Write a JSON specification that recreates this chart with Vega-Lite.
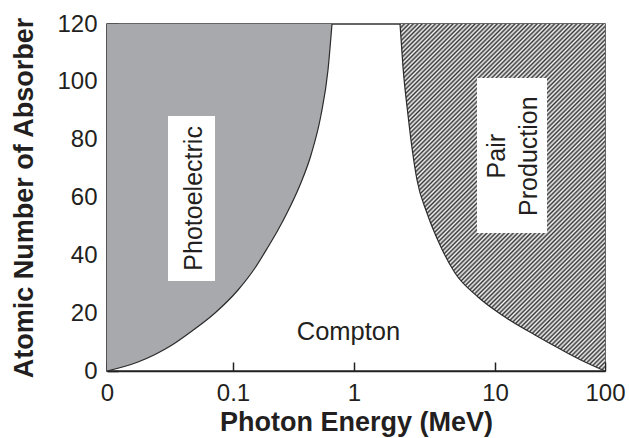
{
  "$schema": "https://vega.github.io/schema/vega-lite/v6.json",
  "width": 498,
  "height": 347,
  "autosize": {"type": "none"},
  "padding": {"left": 107, "top": 24, "right": 24, "bottom": 67},
  "background": "white",
  "config": {
    "view": {"stroke": "#333", "strokeWidth": 1.5},
    "font": "Liberation Sans"
  },
  "datasets": {
    "photo": [
      {"E": 0.01, "Z": 0}, {"E": 0.01762, "Z": 3.11}, {"E": 0.0328, "Z": 8.99},
      {"E": 0.04726, "Z": 13.83}, {"E": 0.07197, "Z": 20.06}, {"E": 0.11, "Z": 28.01},
      {"E": 0.152, "Z": 35.62}, {"E": 0.1947, "Z": 42.88}, {"E": 0.2354, "Z": 48.76},
      {"E": 0.2795, "Z": 54.64}, {"E": 0.3579, "Z": 64.32}, {"E": 0.4412, "Z": 74.7},
      {"E": 0.5337, "Z": 88.53}, {"E": 0.6097, "Z": 104.1}, {"E": 0.658, "Z": 120}
    ],
    "pair": [
      {"E": 2.12, "Z": 120}, {"E": 2.226, "Z": 105.1}, {"E": 2.415, "Z": 88.53},
      {"E": 2.62, "Z": 74.7}, {"E": 2.798, "Z": 66.05}, {"E": 3.294, "Z": 54.64},
      {"E": 4.073, "Z": 43.57}, {"E": 5.204, "Z": 33.89}, {"E": 7.576, "Z": 25.59},
      {"E": 12.33, "Z": 18.67}, {"E": 23.1, "Z": 12.45}, {"E": 40.64, "Z": 7.26},
      {"E": 65.8, "Z": 3.11}, {"E": 100, "Z": 0}
    ],
    "boxes": [
      {"x1": 0.0305, "x2": 0.072, "y1": 31.1, "y2": 88.2},
      {"x1": 7.45, "x2": 29.7, "y1": 47.7, "y2": 101.3}
    ],
    "vlabels": [
      {"t": "Photoelectric", "E": 0.0568, "Z": 59.7},
      {"t": "Pair", "E": 12.33, "Z": 74.3},
      {"t": "Production", "E": 24.09, "Z": 74.3}
    ],
    "hlabels": [
      {"t": "Compton", "E": 0.9006, "Z": 10.7}
    ]
  },
  "encoding": {
    "x": {
      "field": "E", "type": "quantitative",
      "scale": {"type": "log", "domain": [0.01, 0.1, 1, 10, 100], "range": [0, 126, 247, 388, 498], "nice": false},
      "axis": {
        "values": [0.01, 0.1, 1, 10, 100],
        "labelExpr": "datum.value < 0.05 ? '0' : format(datum.value, '~g')",
        "title": "Photon Energy (MeV)",
        "grid": false,
        "tickSize": -9, "tickWidth": 1.5, "tickColor": "#222",
        "domainColor": "#222", "domainWidth": 1.5,
        "labelFontSize": 24, "labelColor": "#231f20", "labelPadding": 19,
        "labelFlush": false, "labelOverlap": false,
        "titleFontSize": 27, "titleFontWeight": "bold", "titleColor": "#231f20",
        "titlePadding": 4
      }
    },
    "y": {
      "field": "Z", "type": "quantitative",
      "scale": {"domain": [0, 120], "nice": false},
      "axis": {
        "values": [0, 20, 40, 60, 80, 100, 120],
        "title": "Atomic Number of Absorber",
        "grid": false,
        "tickSize": -11, "tickWidth": 1.5, "tickColor": "#222",
        "domainColor": "#222", "domainWidth": 1.5,
        "labelFontSize": 24, "labelColor": "#231f20", "labelPadding": 21,
        "labelOverlap": false,
        "titleFontSize": 27, "titleFontWeight": "bold", "titleColor": "#231f20",
        "titlePadding": 18
      }
    }
  },
  "layer": [
    {
      "data": {"name": "photo"},
      "mark": {"type": "area", "color": "#a7a9ac", "interpolate": "monotone"},
      "encoding": {"y2": {"datum": 120}}
    },
    {
      "data": {"name": "pair"},
      "mark": {
        "type": "area", "interpolate": "monotone",
        "color": {
          "gradient": "linear", "x1": 0, "y1": 0, "x2": 0.697, "y2": 1.179,
          "stops": [
            {"offset":0,"color":"#363636"},{"offset":0.004,"color":"#f6f6f6"},{"offset":0.008,"color":"#363636"},{"offset":0.012,"color":"#f6f6f6"},{"offset":0.016,"color":"#363636"},{"offset":0.02,"color":"#f6f6f6"},{"offset":0.024,"color":"#363636"},{"offset":0.028,"color":"#f6f6f6"},{"offset":0.032,"color":"#363636"},{"offset":0.036,"color":"#f6f6f6"},
            {"offset":0.04,"color":"#363636"},{"offset":0.044,"color":"#f6f6f6"},{"offset":0.048,"color":"#363636"},{"offset":0.052,"color":"#f6f6f6"},{"offset":0.056,"color":"#363636"},{"offset":0.06,"color":"#f6f6f6"},{"offset":0.064,"color":"#363636"},{"offset":0.068,"color":"#f6f6f6"},{"offset":0.072,"color":"#363636"},{"offset":0.076,"color":"#f6f6f6"},
            {"offset":0.08,"color":"#363636"},{"offset":0.084,"color":"#f6f6f6"},{"offset":0.088,"color":"#363636"},{"offset":0.092,"color":"#f6f6f6"},{"offset":0.096,"color":"#363636"},{"offset":0.1,"color":"#f6f6f6"},{"offset":0.104,"color":"#363636"},{"offset":0.108,"color":"#f6f6f6"},{"offset":0.112,"color":"#363636"},{"offset":0.116,"color":"#f6f6f6"},
            {"offset":0.12,"color":"#363636"},{"offset":0.124,"color":"#f6f6f6"},{"offset":0.128,"color":"#363636"},{"offset":0.132,"color":"#f6f6f6"},{"offset":0.136,"color":"#363636"},{"offset":0.14,"color":"#f6f6f6"},{"offset":0.144,"color":"#363636"},{"offset":0.148,"color":"#f6f6f6"},{"offset":0.152,"color":"#363636"},{"offset":0.156,"color":"#f6f6f6"},
            {"offset":0.16,"color":"#363636"},{"offset":0.164,"color":"#f6f6f6"},{"offset":0.168,"color":"#363636"},{"offset":0.172,"color":"#f6f6f6"},{"offset":0.176,"color":"#363636"},{"offset":0.18,"color":"#f6f6f6"},{"offset":0.184,"color":"#363636"},{"offset":0.188,"color":"#f6f6f6"},{"offset":0.192,"color":"#363636"},{"offset":0.196,"color":"#f6f6f6"},
            {"offset":0.2,"color":"#363636"},{"offset":0.204,"color":"#f6f6f6"},{"offset":0.208,"color":"#363636"},{"offset":0.212,"color":"#f6f6f6"},{"offset":0.216,"color":"#363636"},{"offset":0.22,"color":"#f6f6f6"},{"offset":0.224,"color":"#363636"},{"offset":0.228,"color":"#f6f6f6"},{"offset":0.232,"color":"#363636"},{"offset":0.236,"color":"#f6f6f6"},
            {"offset":0.24,"color":"#363636"},{"offset":0.244,"color":"#f6f6f6"},{"offset":0.248,"color":"#363636"},{"offset":0.252,"color":"#f6f6f6"},{"offset":0.256,"color":"#363636"},{"offset":0.26,"color":"#f6f6f6"},{"offset":0.264,"color":"#363636"},{"offset":0.268,"color":"#f6f6f6"},{"offset":0.272,"color":"#363636"},{"offset":0.276,"color":"#f6f6f6"},
            {"offset":0.28,"color":"#363636"},{"offset":0.284,"color":"#f6f6f6"},{"offset":0.288,"color":"#363636"},{"offset":0.292,"color":"#f6f6f6"},{"offset":0.296,"color":"#363636"},{"offset":0.3,"color":"#f6f6f6"},{"offset":0.304,"color":"#363636"},{"offset":0.308,"color":"#f6f6f6"},{"offset":0.312,"color":"#363636"},{"offset":0.316,"color":"#f6f6f6"},
            {"offset":0.32,"color":"#363636"},{"offset":0.324,"color":"#f6f6f6"},{"offset":0.328,"color":"#363636"},{"offset":0.332,"color":"#f6f6f6"},{"offset":0.336,"color":"#363636"},{"offset":0.34,"color":"#f6f6f6"},{"offset":0.344,"color":"#363636"},{"offset":0.348,"color":"#f6f6f6"},{"offset":0.352,"color":"#363636"},{"offset":0.356,"color":"#f6f6f6"},
            {"offset":0.36,"color":"#363636"},{"offset":0.364,"color":"#f6f6f6"},{"offset":0.368,"color":"#363636"},{"offset":0.372,"color":"#f6f6f6"},{"offset":0.376,"color":"#363636"},{"offset":0.38,"color":"#f6f6f6"},{"offset":0.384,"color":"#363636"},{"offset":0.388,"color":"#f6f6f6"},{"offset":0.392,"color":"#363636"},{"offset":0.396,"color":"#f6f6f6"},
            {"offset":0.4,"color":"#363636"},{"offset":0.404,"color":"#f6f6f6"},{"offset":0.408,"color":"#363636"},{"offset":0.412,"color":"#f6f6f6"},{"offset":0.416,"color":"#363636"},{"offset":0.42,"color":"#f6f6f6"},{"offset":0.424,"color":"#363636"},{"offset":0.428,"color":"#f6f6f6"},{"offset":0.432,"color":"#363636"},{"offset":0.436,"color":"#f6f6f6"},
            {"offset":0.44,"color":"#363636"},{"offset":0.444,"color":"#f6f6f6"},{"offset":0.448,"color":"#363636"},{"offset":0.452,"color":"#f6f6f6"},{"offset":0.456,"color":"#363636"},{"offset":0.46,"color":"#f6f6f6"},{"offset":0.464,"color":"#363636"},{"offset":0.468,"color":"#f6f6f6"},{"offset":0.472,"color":"#363636"},{"offset":0.476,"color":"#f6f6f6"},
            {"offset":0.48,"color":"#363636"},{"offset":0.484,"color":"#f6f6f6"},{"offset":0.488,"color":"#363636"},{"offset":0.492,"color":"#f6f6f6"},{"offset":0.496,"color":"#363636"},{"offset":0.5,"color":"#f6f6f6"},{"offset":0.504,"color":"#363636"},{"offset":0.508,"color":"#f6f6f6"},{"offset":0.512,"color":"#363636"},{"offset":0.516,"color":"#f6f6f6"},
            {"offset":0.52,"color":"#363636"},{"offset":0.524,"color":"#f6f6f6"},{"offset":0.528,"color":"#363636"},{"offset":0.532,"color":"#f6f6f6"},{"offset":0.536,"color":"#363636"},{"offset":0.54,"color":"#f6f6f6"},{"offset":0.544,"color":"#363636"},{"offset":0.548,"color":"#f6f6f6"},{"offset":0.552,"color":"#363636"},{"offset":0.556,"color":"#f6f6f6"},
            {"offset":0.56,"color":"#363636"},{"offset":0.564,"color":"#f6f6f6"},{"offset":0.568,"color":"#363636"},{"offset":0.572,"color":"#f6f6f6"},{"offset":0.576,"color":"#363636"},{"offset":0.58,"color":"#f6f6f6"},{"offset":0.584,"color":"#363636"},{"offset":0.588,"color":"#f6f6f6"},{"offset":0.592,"color":"#363636"},{"offset":0.596,"color":"#f6f6f6"},
            {"offset":0.6,"color":"#363636"},{"offset":0.604,"color":"#f6f6f6"},{"offset":0.608,"color":"#363636"},{"offset":0.612,"color":"#f6f6f6"},{"offset":0.616,"color":"#363636"},{"offset":0.62,"color":"#f6f6f6"},{"offset":0.624,"color":"#363636"},{"offset":0.628,"color":"#f6f6f6"},{"offset":0.632,"color":"#363636"},{"offset":0.636,"color":"#f6f6f6"},
            {"offset":0.64,"color":"#363636"},{"offset":0.644,"color":"#f6f6f6"},{"offset":0.648,"color":"#363636"},{"offset":0.652,"color":"#f6f6f6"},{"offset":0.656,"color":"#363636"},{"offset":0.66,"color":"#f6f6f6"},{"offset":0.664,"color":"#363636"},{"offset":0.668,"color":"#f6f6f6"},{"offset":0.672,"color":"#363636"},{"offset":0.676,"color":"#f6f6f6"},
            {"offset":0.68,"color":"#363636"},{"offset":0.684,"color":"#f6f6f6"},{"offset":0.688,"color":"#363636"},{"offset":0.692,"color":"#f6f6f6"},{"offset":0.696,"color":"#363636"},{"offset":0.7,"color":"#f6f6f6"},{"offset":0.704,"color":"#363636"},{"offset":0.708,"color":"#f6f6f6"},{"offset":0.712,"color":"#363636"},{"offset":0.716,"color":"#f6f6f6"},
            {"offset":0.72,"color":"#363636"},{"offset":0.724,"color":"#f6f6f6"},{"offset":0.728,"color":"#363636"},{"offset":0.732,"color":"#f6f6f6"},{"offset":0.736,"color":"#363636"},{"offset":0.74,"color":"#f6f6f6"},{"offset":0.744,"color":"#363636"},{"offset":0.748,"color":"#f6f6f6"},{"offset":0.752,"color":"#363636"},{"offset":0.756,"color":"#f6f6f6"},
            {"offset":0.76,"color":"#363636"},{"offset":0.764,"color":"#f6f6f6"},{"offset":0.768,"color":"#363636"},{"offset":0.772,"color":"#f6f6f6"},{"offset":0.776,"color":"#363636"},{"offset":0.78,"color":"#f6f6f6"},{"offset":0.784,"color":"#363636"},{"offset":0.788,"color":"#f6f6f6"},{"offset":0.792,"color":"#363636"},{"offset":0.796,"color":"#f6f6f6"},
            {"offset":0.8,"color":"#363636"},{"offset":0.804,"color":"#f6f6f6"},{"offset":0.808,"color":"#363636"},{"offset":0.812,"color":"#f6f6f6"},{"offset":0.816,"color":"#363636"},{"offset":0.82,"color":"#f6f6f6"},{"offset":0.824,"color":"#363636"},{"offset":0.828,"color":"#f6f6f6"},{"offset":0.832,"color":"#363636"},{"offset":0.836,"color":"#f6f6f6"},
            {"offset":0.84,"color":"#363636"},{"offset":0.844,"color":"#f6f6f6"},{"offset":0.848,"color":"#363636"},{"offset":0.852,"color":"#f6f6f6"},{"offset":0.856,"color":"#363636"},{"offset":0.86,"color":"#f6f6f6"},{"offset":0.864,"color":"#363636"},{"offset":0.868,"color":"#f6f6f6"},{"offset":0.872,"color":"#363636"},{"offset":0.876,"color":"#f6f6f6"},
            {"offset":0.88,"color":"#363636"},{"offset":0.884,"color":"#f6f6f6"},{"offset":0.888,"color":"#363636"},{"offset":0.892,"color":"#f6f6f6"},{"offset":0.896,"color":"#363636"},{"offset":0.9,"color":"#f6f6f6"},{"offset":0.904,"color":"#363636"},{"offset":0.908,"color":"#f6f6f6"},{"offset":0.912,"color":"#363636"},{"offset":0.916,"color":"#f6f6f6"},
            {"offset":0.92,"color":"#363636"},{"offset":0.924,"color":"#f6f6f6"},{"offset":0.928,"color":"#363636"},{"offset":0.932,"color":"#f6f6f6"},{"offset":0.936,"color":"#363636"},{"offset":0.94,"color":"#f6f6f6"},{"offset":0.944,"color":"#363636"},{"offset":0.948,"color":"#f6f6f6"},{"offset":0.952,"color":"#363636"},{"offset":0.956,"color":"#f6f6f6"},
            {"offset":0.96,"color":"#363636"},{"offset":0.964,"color":"#f6f6f6"},{"offset":0.968,"color":"#363636"},{"offset":0.972,"color":"#f6f6f6"},{"offset":0.976,"color":"#363636"},{"offset":0.98,"color":"#f6f6f6"},{"offset":0.984,"color":"#363636"},{"offset":0.988,"color":"#f6f6f6"},{"offset":0.992,"color":"#363636"},{"offset":0.996,"color":"#f6f6f6"},
            {"offset":1,"color":"#363636"}
          ]
        }
      },
      "encoding": {"y2": {"datum": 120}}
    },
    {
      "data": {"name": "photo"},
      "mark": {"type": "line", "color": "#2b2b2b", "strokeWidth": 1.2, "interpolate": "monotone"},
      "encoding": {}
    },
    {
      "data": {"name": "pair"},
      "mark": {"type": "line", "color": "#2b2b2b", "strokeWidth": 1.2, "interpolate": "monotone"},
      "encoding": {}
    },
    {
      "data": {"name": "boxes"},
      "mark": {"type": "rect", "color": "white"},
      "encoding": {
        "x": {"field": "x1", "type": "quantitative"},
        "x2": {"field": "x2"},
        "y": {"field": "y1", "type": "quantitative"},
        "y2": {"field": "y2"}
      }
    },
    {
      "data": {"name": "vlabels"},
      "mark": {"type": "text", "angle": 270, "fontSize": 25, "color": "#231f20", "align": "center", "baseline": "alphabetic"},
      "encoding": {"text": {"field": "t"}}
    },
    {
      "data": {"name": "hlabels"},
      "mark": {"type": "text", "fontSize": 25.5, "color": "#231f20", "align": "center", "baseline": "alphabetic"},
      "encoding": {"text": {"field": "t"}}
    }
  ]
}
